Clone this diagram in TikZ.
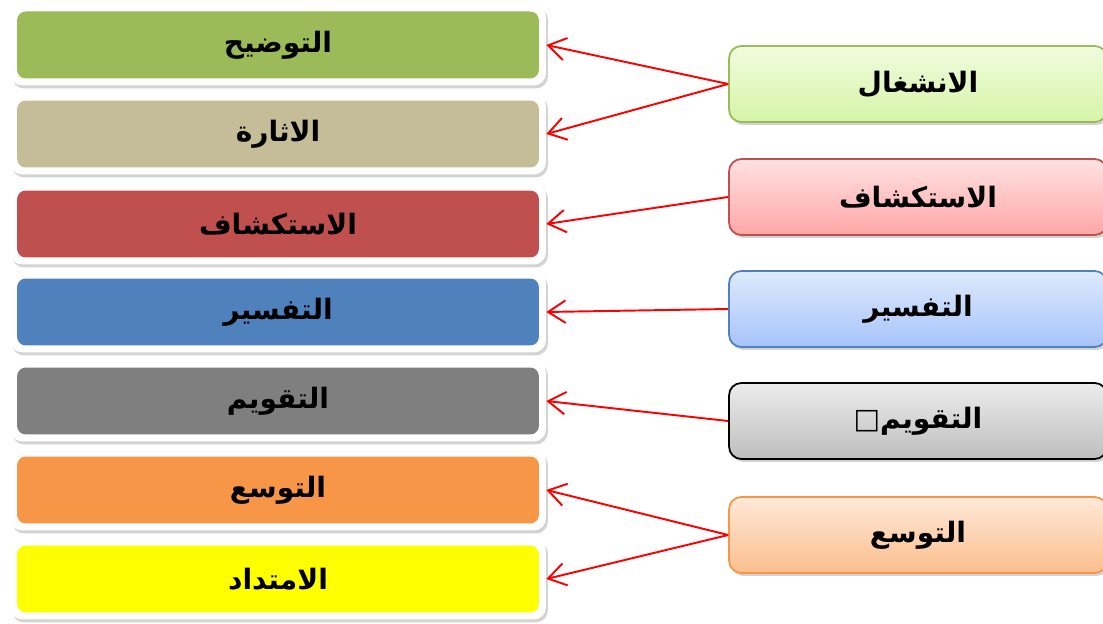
\documentclass[tikz,border=0pt]{standalone}
\usepackage{fontspec}
\usetikzlibrary{shadows,arrows.meta}
\TeXXeTstate=1
\newfontfamily\arabicfont[Script=Arabic]{DejaVu Sans}
\definecolor{olive}{HTML}{9BBB59}
\definecolor{sand}{HTML}{C4BD97}
\definecolor{brick}{HTML}{C0504D}
\definecolor{steel}{HTML}{4F81BD}
\definecolor{slate}{HTML}{7F7F7F}
\definecolor{tangerine}{HTML}{F79646}
\definecolor{lemon}{HTML}{FFFF00}
\definecolor{oliveT}{RGB}{240,252,222}
\definecolor{oliveB}{RGB}{214,244,168}
\definecolor{brickT}{RGB}{255,226,226}
\definecolor{brickB}{RGB}{255,166,166}
\definecolor{steelT}{RGB}{222,234,252}
\definecolor{steelB}{RGB}{166,196,250}
\definecolor{slateT}{RGB}{236,236,236}
\definecolor{slateB}{RGB}{190,190,190}
\definecolor{tangerineT}{RGB}{254,233,216}
\definecolor{tangerineB}{RGB}{252,190,142}

\begin{document}
\begin{tikzpicture}[x=0.02cm,y=-0.02cm,
frame/.style={shape=rectangle,rounded corners=7pt,fill=white,minimum width=10.72cm,minimum height=1.62cm,drop shadow={shadow xshift=0.4mm,shadow yshift=-0.6mm,opacity=0.35}},
stage/.style={shape=rectangle,rounded corners=5pt,minimum width=10.44cm,minimum height=1.34cm,font=\arabicfont\bfseries\fontsize{16}{19}\selectfont},
phase/.style={shape=rectangle,rounded corners=7pt,line width=1pt,minimum width=7.56cm,minimum height=1.52cm,drop shadow={shadow xshift=0.4mm,shadow yshift=-0.6mm,opacity=0.35},font=\arabicfont\bfseries\fontsize{16}{19}\selectfont},
link/.style={draw=red,line width=1.1pt,-{Straight Barb[length=3.5mm,width=4.5mm]}}]
\def\xl{278};
\def\xr{918};

\useasboundingbox (0,0) rectangle (1103,624);

\node[frame] (F1) at (\xl,45) {};
\node[stage,fill=olive] (L1) at (F1) {\beginR التوضيح\endR};
\node[frame] (F2) at (\xl,134) {};
\node[stage,fill=sand] (L2) at (F2) {\beginR الاثارة\endR};
\node[frame] (F3) at (\xl,224) {};
\node[stage,fill=brick] (L3) at (F3) {\beginR الاستكشاف\endR};
\node[frame] (F4) at (\xl,312) {};
\node[stage,fill=steel] (L4) at (F4) {\beginR التفسير\endR};
\node[frame] (F5) at (\xl,401) {};
\node[stage,fill=slate] (L5) at (F5) {\beginR التقويم\endR};
\node[frame] (F6) at (\xl,490) {};
\node[stage,fill=tangerine] (L6) at (F6) {\beginR التوسع\endR};
\node[frame] (F7) at (\xl,579) {};
\node[stage,fill=lemon] (L7) at (F7) {\beginR الامتداد\endR};

\node[phase,draw=olive,top color=oliveT,bottom color=oliveB] (R1) at (\xr,84) {\beginR الانشغال\endR};
\node[phase,draw=brick,top color=brickT,bottom color=brickB] (R2) at (\xr,197) {\beginR الاستكشاف\endR};
\node[phase,draw=steel,top color=steelT,bottom color=steelB] (R3) at (\xr,309) {\beginR التفسير\endR};
\node[phase,draw=black,top color=slateT,bottom color=slateB] (R4) at (\xr,421) {\beginR التقويم□\endR};
\node[phase,draw=tangerine,top color=tangerineT,bottom color=tangerineB] (R5) at (\xr,535) {\beginR التوسع\endR};

\draw[link] (R1.west) -- (F1.east);
\draw[link] (R1.west) -- (F2.east);
\draw[link] (R2.west) -- (F3.east);
\draw[link] (R3.west) -- (F4.east);
\draw[link] (R4.west) -- (F5.east);
\draw[link] (R5.west) -- (F6.east);
\draw[link] (R5.west) -- (F7.east);

\end{tikzpicture}
\end{document}
